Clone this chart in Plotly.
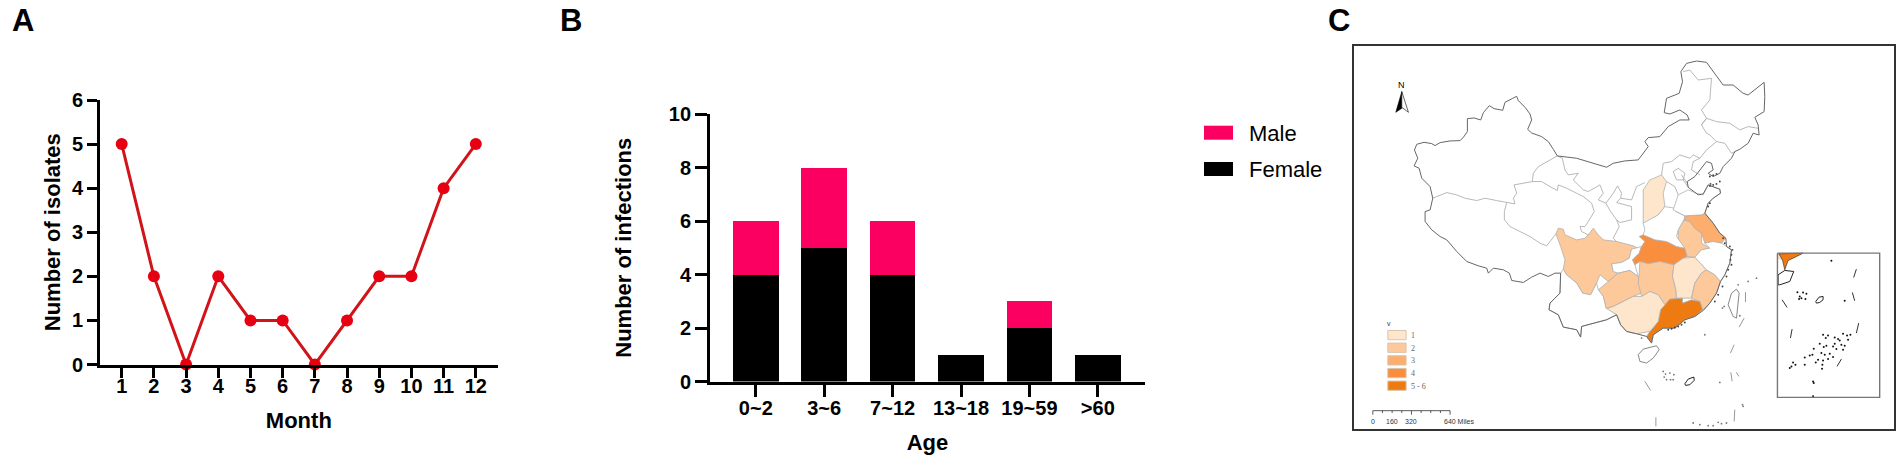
import plotly.graph_objects as go

W, H = 1901, 464
FONT = "Liberation Sans"

# ---------- chart data ----------
MONTHS = list(range(1, 13))
ISOLATES = [5, 2, 0, 2, 1, 1, 0, 1, 2, 2, 4, 5]
AGES = ["0~2", "3~6", "7~12", "13~18", "19~59", ">60"]
FEMALE = [4, 5, 4, 1, 2, 1]
MALE = [2, 3, 2, 0, 1, 0]

# ---------- map data, in map units ----------
C1, C2, C3, C4, C5 = "#FDE6CB", "#FDC99A", "#FDAE6D", "#F98F3E", "#EE7B12"
SICHUAN = [(618,612),(625,595),(640,598),(645,615),(680,630),(705,625),(715,615),(730,595),(745,615),(760,630),(800,635),(850,648),(872,660),(845,660),(838,685),(815,698),(785,702),(790,725),(805,730),(775,755),(750,735),(740,760),(722,795),(698,790),(680,760),(650,735),(640,718),(645,690),(632,650)]
CHONGQING = [(785,702),(815,698),(838,685),(845,658),(875,650),(868,670),(848,690),(855,705),(865,740),(840,722),(805,730),(790,725)]
HUBEI = [(868,620),(880,615),(915,630),(950,635),(980,650),(1005,655),(1012,680),(1000,685),(972,705),(930,695),(895,702),(870,695),(855,705),(848,690),(868,670),(875,650),(885,635)]
GUIZHOU = [(745,780),(775,755),(805,730),(840,722),(865,740),(875,790),(850,800),(820,815),(790,830),(768,835),(760,800)]
HUNAN = [(870,695),(895,702),(930,695),(972,705),(968,740),(978,780),(980,805),(945,825),(925,795),(900,785),(875,800),(865,760),(868,730)]
JIANGXI = [(972,705),(1000,685),(1035,682),(1070,720),(1055,730),(1035,760),(1025,805),(998,805),(980,805),(978,780),(968,740)]
FUJIAN = [(1070,720),(1095,735),(1112,755),(1100,790),(1080,820),(1060,842),(1050,815),(1025,805),(1035,760),(1055,730)]
GUANGDONG = [(945,825),(960,808),(998,805),(998,820),(1025,810),(1050,815),(1058,840),(1035,860),(1005,870),(975,895),(940,895),(910,915),(905,940),(890,920),(900,905),(925,875),(932,840)]
GUANGXI = [(800,855),(768,838),(790,830),(820,815),(850,800),(875,800),(900,785),(925,795),(945,825),(932,840),(925,875),(900,905),(860,912),(830,905),(812,885)]
YUNNAN = [(632,730),(630,790),(600,820),(597,840),(625,855),(640,892),(680,900),(692,922),(695,890),(735,880),(770,870),(800,855),(768,835),(760,800),(745,780),(740,760),(722,795),(698,790),(680,760),(650,735),(640,718)]
ANHUI = [(985,600),(1002,570),(1020,575),(1035,595),(1055,610),(1055,640),(1080,655),(1055,660),(1035,682),(1012,680),(1005,655),(980,650),(985,620)]
JIANGSU = [(1005,558),(1055,555),(1065,550),(1090,580),(1110,610),(1128,625),(1115,640),(1090,635),(1065,640),(1055,610),(1035,595),(1020,575),(1002,570)]
ZHEJIANG = [(1080,655),(1065,640),(1090,635),(1115,640),(1130,650),(1145,660),(1140,700),(1125,735),(1112,755),(1095,735),(1070,720),(1035,682),(1055,660)]
SHANXI = [(880,580),(880,530),(880,480),(900,450),(935,435),(950,455),(940,490),(945,530),(925,555),(885,580)]
HENAN = [(880,580),(925,555),(945,530),(975,535),(978,545),(1005,558),(1002,570),(985,600),(980,620),(1005,655),(980,650),(950,635),(915,630),(880,615),(885,600)]
SHANDONG = [(970,540),(985,495),(1015,480),(1040,490),(1060,495),(1075,465),(1110,478),(1112,490),(1090,505),(1075,520),(1065,550),(1055,555),(1005,558),(978,545)]
PROVINCES = [(SICHUAN,C2),(CHONGQING,"#FFFFFF"),(HUBEI,C4),(GUIZHOU,C2),(HUNAN,C2),(JIANGXI,C1),(FUJIAN,C2),
             (GUANGDONG,C5),(GUANGXI,C1),(YUNNAN,"#FFFFFF"),(ANHUI,C2),(JIANGSU,C3),(ZHEJIANG,"#FFFFFF"),
             (SHANXI,C1),(HENAN,"#FFFFFF"),(SHANDONG,"#FFFFFF")]

OUTLINE = [(193,360),(200,343),(222,337),(245,341),(255,347),(270,338),(300,333),(330,332),(340,322),(352,305),(352,266),(372,264),(392,270),(400,248),(418,227),(432,236),(458,241),(465,217),(488,205),(500,199),(505,212),(525,232),(540,252),(545,270),(533,298),(545,309),(575,320),(595,335),(610,358),(622,378),(680,385),(730,400),(770,412),(790,400),(825,393),(865,390),(885,365),(895,350),(885,335),(895,323),(930,320),(955,290),(990,270),(1018,270),(1012,255),(990,240),(960,252),(943,248),(950,205),(988,190),(998,155),(993,125),(1010,100),(1040,93),(1070,97),(1090,125),(1120,165),(1150,165),(1180,190),(1195,195),(1220,175),(1243,157),(1245,200),(1243,245),(1215,262),(1225,285),(1228,315),(1210,310),(1195,340),(1170,358),(1155,365),(1145,385),(1120,410),(1110,430),(1090,440),(1075,430),(1090,420),(1085,400),(1070,395),(1050,420),(1035,440),(1012,455),(1015,472),(1045,495),(1060,492),(1075,465),(1110,478),(1112,490),(1090,505),(1075,520),(1065,550),(1090,580),(1110,610),(1128,625),(1130,650),(1145,660),(1140,700),(1125,735),(1112,755),(1100,790),(1080,820),(1060,842),(1035,860),(1005,870),(975,895),(940,895),(910,915),(905,940),(890,920),(860,912),(830,905),(812,885),(800,855),(770,870),(735,880),(695,890),(692,922),(680,900),(640,892),(625,855),(597,840),(600,820),(630,790),(632,730),(615,730),(595,740),(570,730),(545,742),(520,758),(485,752),(478,730),(460,720),(430,715),(415,730),(410,715),(385,708),(350,695),(320,665),(290,630),(270,620),(245,600),(225,575),(225,545),(240,540),(248,505),(245,490),(240,470),(215,445),(207,415),(192,408),(203,385),(193,360)]

BORDERS = [
    [(622,378),(590,395),(565,410),(550,430),(547,455)],
    [(248,505),(268,497),(290,488),(320,495),(345,505),(380,512),(405,505),(440,512),(470,518),(495,522),(490,505),(500,490),(492,465),(515,460),(547,455)],
    [(470,518),(463,545),(463,570),(480,590),(510,605),(540,620),(570,640),(590,648),(618,612)],
    [(547,455),(575,455),(600,470),(622,482),(625,465),(650,475),(680,490),(700,500),(725,520),(733,545),(715,575),(705,590),(690,590),(695,605),(715,615)],
    [(622,378),(637,385),(645,420),(655,435),(685,430),(670,450),(700,480),(715,485),(750,465),(760,490),(745,510),(768,520),(790,490),(803,468),(815,490),(812,505),(845,510),(860,470),(885,458)],
    [(768,520),(782,545),(800,570),(808,590),(790,625),(800,635)],
    [(812,505),(800,518),(845,530),(845,570),(810,578),(800,570)],
    [(935,435),(940,400),(965,395),(990,375),(1020,385),(1030,375),(1050,385),(1070,360),(1100,335),(1080,315),(1070,310),(1055,285),(1070,265),(1055,240),(1080,210),(1085,145),(1045,150),(1020,120),(1000,125)],
    [(1055,285),(1070,265),(1100,275),(1140,280),(1170,300),(1195,290),(1225,295)],
    [(1100,335),(1125,340),(1145,370),(1155,365)],
    [(1050,385),(1030,395),(1025,420),(1050,435)],
    [(970,425),(985,415),(1005,430),(1000,450),(980,450),(970,425)],
    [(995,435),(1012,460)],
    [(950,455),(975,470),(985,495)],
    [(1000,450),(1015,472)],
]
HAINAN = [(865,975),(880,958),(920,948),(928,960),(910,985),(890,1000),(870,995),(865,975)]
TAIWAN = [(1135,825),(1145,790),(1160,778),(1168,790),(1160,865),(1150,860),(1135,825)]
ATOLL = [(1005,1062),(1015,1048),(1032,1042),(1033,1052),(1020,1065),(1007,1067),(1005,1062)]
DASHES = [[(885,1055),(902,1082)],[(918,1163),(918,1190)],[(1155,1140),(1153,1175)],[(1142,970),(1153,945)],[(1168,892),(1183,865)],[(1187,787),(1187,817)],[(1143,1028),(1147,1055)],[(1160,1028),(1167,1040)]]
ISLETS = [(940,1025),(947,1033),(960,1030),(972,1035),(943,1042),(950,1050),(962,1050),(970,1050),(1065,915),(1110,1058),(1180,1130),(1178,1125),(1030,1180),(1050,1185),(1075,1188),(1090,1188),(1105,1178),(1115,1182),(1130,1180),(875,925),(1118,835),(1123,830),(1170,858),(1165,765),(1195,755),(1220,745)]
COAST_ISLETS = [(955,900),(965,897),(975,893),(985,890),(995,885),(1005,878),(1080,468),(1082,462),(1090,465),(1100,462),(1110,455),(1075,530),(1080,520),(1120,625),(1125,640),(1140,650),(1148,660),(1145,675),(1142,690),(1145,705),(1135,720),(1130,740),(1118,770),(1105,795),(1095,815),(1080,440),(1090,436),(1100,432)]

INSET_BOX = [(1283,670),(1590,670),(1590,1103),(1283,1103),(1283,670)]
INSET_GD = [(1287,672),(1310,672),(1360,670),(1330,685),(1315,692),(1305,720),(1298,690)]
INSET_GX = [(1285,672),(1310,672),(1298,690),(1285,685)]
INSET_HN = [(1285,735),(1305,722),(1332,725),(1320,755),(1290,765),(1285,765),(1285,735)]
INSET_ATOLL = [(1398,815),(1408,802),(1420,800),(1420,810),(1410,818),(1400,820),(1398,815)]
INSET_DASHES = [[(1520,718),(1512,743)],[(1508,788),(1515,813)],[(1297,810),(1312,833)],[(1327,898),(1322,925)],[(1527,880),(1520,910)],[(1475,988),(1462,1010)]]
INSET_ISLETS = [(1445,693),(1485,813),(1343,787),(1350,800),(1355,805),(1360,788),(1370,792),(1367,808),(1348,808),(1420,915),(1435,917),(1428,925),(1455,923),(1465,928),(1480,912),(1492,917),(1502,915),(1495,930),(1470,932),(1455,942),(1430,948),(1422,952),(1410,942),(1450,950),(1475,945),(1485,948),(1480,960),(1460,958),(1392,957),(1415,970),(1425,975),(1440,972),(1380,977),(1388,975),(1365,983),(1405,990),(1420,992),(1435,988),(1450,982),(1398,998),(1418,1005),(1417,1017),(1365,1005),(1330,998),(1337,1005),(1320,1015),(1325,1010),(1390,1055),(1392,1060),(1390,1100)]

ARROW_L = [(155,185),(137,247),(155,235),(155,185)]
ARROW_R = [(155,185),(175,247),(155,232),(155,185)]
LEGEND_COLORS = [C1, C2, C3, C4, C5]
LEGEND_LABELS = ["1", "2", "3", "4", "5 - 6"]
SCALE_LABELS = ["0", "160", "320", "640 Miles"]
SCALE_POS = [68, 126, 184, 326]
SCALE_TICKS = [68, 97, 126, 155, 184, 213, 242, 271, 300]


def xdom(a, b):
    return [a / W, b / W]


def ydom(top, bottom):
    return [1 - bottom / H, 1 - top / H]


fig = go.Figure()

# Panel A
fig.add_trace(go.Scatter(x=MONTHS, y=ISOLATES, mode="lines+markers", cliponaxis=False, showlegend=False,
                         line=dict(color="#D0141A", width=3),
                         marker=dict(color="#E60012", size=12), xaxis="x", yaxis="y"))
# Panel B
fig.add_trace(go.Bar(x=AGES, y=FEMALE, name="Female", marker=dict(color="#000000", line_width=0),
                     width=0.665, showlegend=False, xaxis="x2", yaxis="y2"))
fig.add_trace(go.Bar(x=AGES, y=MALE, name="Male", marker=dict(color="#FB0060", line_width=0),
                     width=0.665, showlegend=False, xaxis="x2", yaxis="y2"))


def map_line(pts, color, width, fill=None):
    fig.add_trace(go.Scatter(x=[p[0] for p in pts], y=[p[1] for p in pts], mode="lines", showlegend=False,
                             hoverinfo="skip", line=dict(color=color, width=width),
                             fill="toself" if fill else "none", fillcolor=fill, xaxis="x3", yaxis="y3"))


def map_dots(pts, color, size):
    fig.add_trace(go.Scatter(x=[p[0] for p in pts], y=[p[1] for p in pts], mode="markers", showlegend=False,
                             hoverinfo="skip", marker=dict(color=color, size=size, line_width=0),
                             xaxis="x3", yaxis="y3"))


for poly, col in PROVINCES:
    map_line(poly + poly[:1], "#B0B0B0", 0.8, col)
for seg in BORDERS:
    map_line(seg, "#B0B0B0", 0.9)
map_line(OUTLINE, "#666666", 1.0)
map_line(HAINAN, "#888888", 1.0)
map_line(TAIWAN, "#888888", 1.0)
map_line(ATOLL, "#222222", 1.0)
for seg in DASHES:
    map_line(seg, "#999999", 1.0)
map_dots(ISLETS, "#777777", 1.8)
map_dots(COAST_ISLETS, "#444444", 1.9)
map_line(INSET_GX, "#C9B79F", 0.5, C1)
map_line(INSET_GD + INSET_GD[:1], "#222222", 0.6, C5)
map_line(INSET_HN, "#222222", 1.0)
map_line(INSET_ATOLL, "#222222", 1.0)
for seg in INSET_DASHES:
    map_line(seg, "#333333", 1.0)
map_dots(INSET_ISLETS, "#111111", 2.0)
map_line(INSET_BOX, "#777777", 1.4)
map_line(ARROW_L, "#000000", 0.6, "#000000")
map_line(ARROW_R, "#000000", 0.6, "#FFFFFF")

shapes, notes = [], []
# legend of panel B
for y0, col, label in [(125.7, "#FB0060", "Male"), (162, "#000000", "Female")]:
    shapes.append(dict(type="rect", xref="paper", yref="paper", x0=1204 / W, x1=1233 / W,
                       y0=1 - (y0 + 14) / H, y1=1 - y0 / H, fillcolor=col, line_width=0))
    notes.append(dict(text=label, xref="paper", yref="paper", x=1246.5 / W, y=1 - (y0 + 7.5) / H,
                      xanchor="left", yanchor="middle", showarrow=False, font=dict(family=FONT, size=22, color="#000")))
# map legend
for i, (col, label) in enumerate(zip(LEGEND_COLORS, LEGEND_LABELS)):
    v0 = 902 + 38 * i
    shapes.append(dict(type="rect", xref="x3", yref="y3", x0=113, x1=168, y0=v0, y1=v0 + 28, fillcolor=col,
                       line=dict(color="#D8C6AE", width=1)))
    notes.append(dict(text=label, xref="x3", yref="y3", x=176, y=v0 + 15, xanchor="left", yanchor="middle",
                      showarrow=False, font=dict(family="Liberation Serif", size=8, color="#666")))
notes.append(dict(text="v", xref="x3", yref="y3", x=118, y=882, showarrow=False,
                  font=dict(family=FONT, size=7, color="#333")))
notes.append(dict(text="N", xref="x3", yref="y3", x=155, y=166, showarrow=False,
                  font=dict(family=FONT, size=9, color="#000")))
# scale bar
shapes.append(dict(type="line", xref="x3", yref="y3", x0=68, x1=300, y0=1143, y1=1143, line=dict(color="#333", width=0.8)))
for t in SCALE_TICKS:
    shapes.append(dict(type="line", xref="x3", yref="y3", x0=t, x1=t, y0=1143, y1=1150 if t not in (68, 184, 300) else 1155,
                       line=dict(color="#333", width=0.8)))
for t, lab in zip(SCALE_POS, SCALE_LABELS):
    notes.append(dict(text=lab, xref="x3", yref="y3", x=t, y=1175, showarrow=False,
                      font=dict(family=FONT, size=7, color="#333")))
# panel letters
for lab, x in [("A", 23), ("B", 571), ("C", 1339)]:
    notes.append(dict(text=lab, xref="paper", yref="paper", x=x / W, y=1 - 21 / H, showarrow=False,
                      xanchor="center", yanchor="middle",
                      font=dict(family=FONT, size=31, color="#000", weight="bold")))

axis_common = dict(showgrid=False, zeroline=False, showline=True, linecolor="#000", linewidth=2.8, automargin=False,
                   ticks="outside", tickcolor="#000", tickwidth=2.6,
                   tickfont=dict(family=FONT, size=20, color="#000", weight="bold"))
title_font = dict(family=FONT, size=22, color="#000", weight="bold")

fig.update_layout(
    template="none",
    width=W, height=H, margin=dict(l=0, r=0, t=0, b=0, pad=0), paper_bgcolor="#fff", plot_bgcolor="#fff",
    barmode="stack", shapes=shapes, annotations=notes,
    xaxis=dict(domain=xdom(100, 497.7), range=[0.326, 12.68], tickmode="array", tickvals=MONTHS, ticklen=11,
               ticklabelstandoff=-9,
               title=dict(text="Month", font=title_font, standoff=17), anchor="y", **axis_common),
    yaxis=dict(domain=ydom(100, 364.5), range=[0, 6], dtick=1, ticklen=10,
               title=dict(text="Number of isolates", font=title_font, standoff=6), anchor="x", **axis_common),
    xaxis2=dict(domain=xdom(710, 1145), range=[-0.67, 5.69], type="category", ticklen=13,
                ticklabelstandoff=-6,
                title=dict(text="Age", font=title_font, standoff=17), anchor="y2", **axis_common),
    yaxis2=dict(domain=ydom(114, 381.5), range=[0, 10], dtick=2, ticklen=12,
                title=dict(text="Number of infections", font=title_font, standoff=32), anchor="x2", **axis_common),
    xaxis3=dict(domain=xdom(1353.5, 1894), range=[10, 1633], anchor="y3", showticklabels=False, ticks="", automargin=False,
                showgrid=False, zeroline=False, showline=True, mirror=True, linecolor="#333", linewidth=2),
    yaxis3=dict(domain=ydom(45.7, 429), range=[1198, 47], anchor="x3", showticklabels=False, ticks="", automargin=False,
                showgrid=False, zeroline=False, showline=True, mirror=True, linecolor="#333", linewidth=2),
)
fig.write_html("out.html", config={"displayModeBar": False},
               post_script="document.body.style.margin='0';document.body.style.overflow='hidden';")
